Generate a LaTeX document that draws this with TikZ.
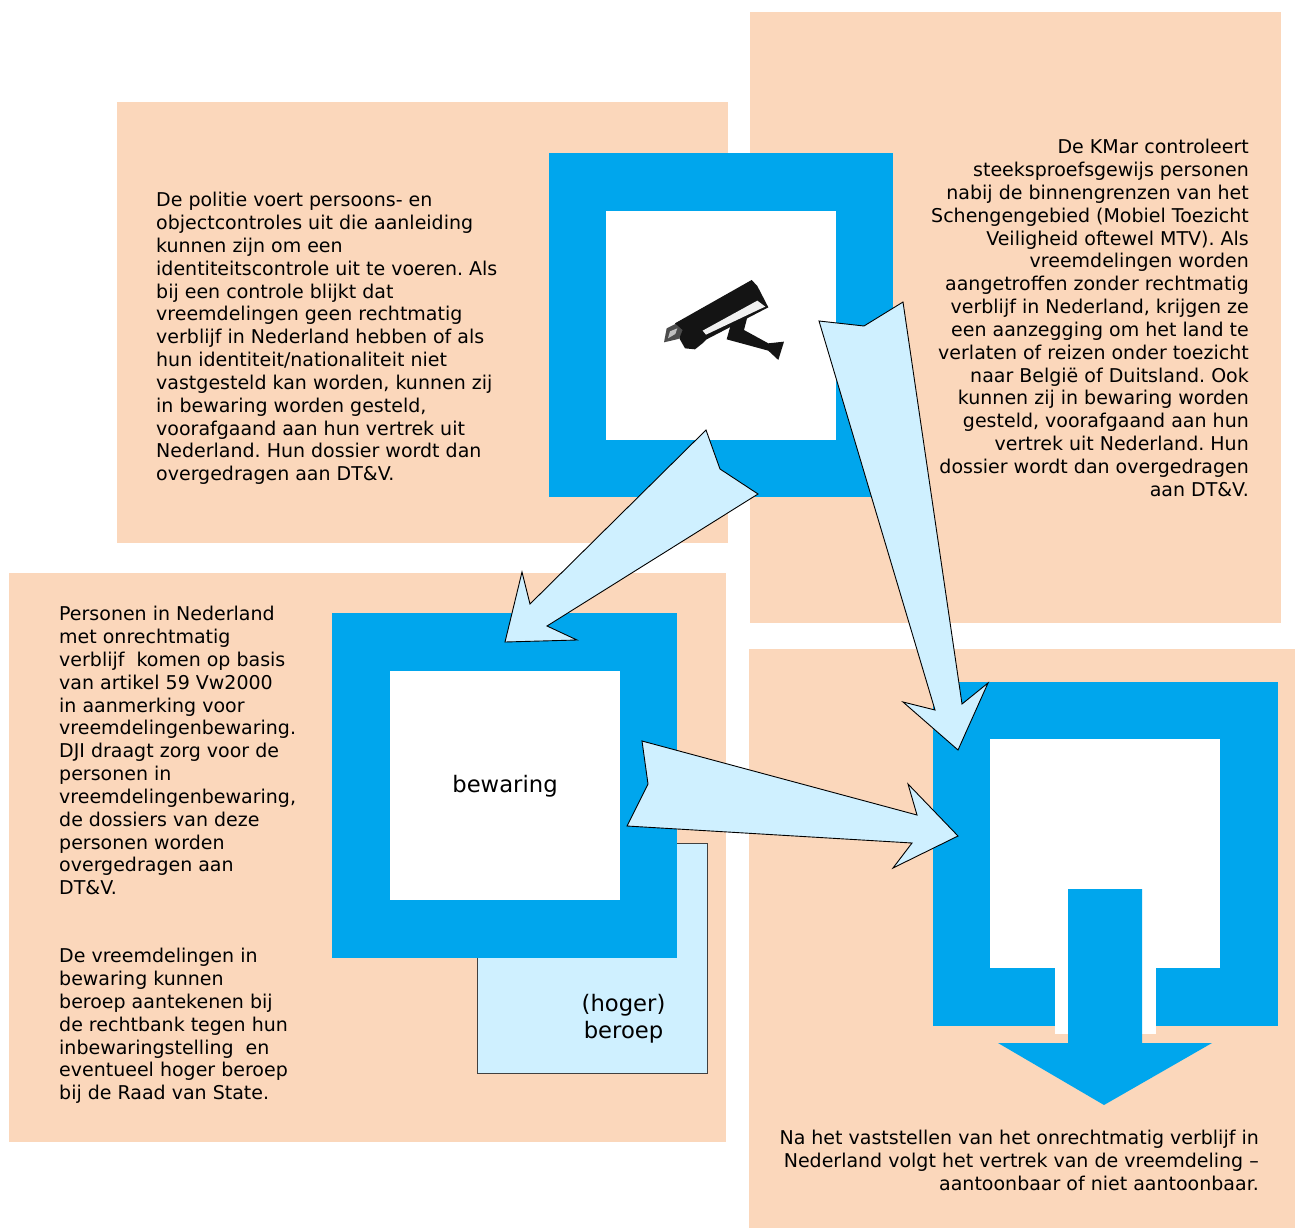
\documentclass[tikz,border=0pt]{standalone}
\usepackage{fontspec}
\setmainfont{DejaVu Sans}
\frenchspacing
\definecolor{peach}{HTML}{FBD7BB}
\definecolor{frameblue}{HTML}{00A6ED}
\definecolor{paleblue}{HTML}{CFF0FF}
\tikzset{
  panel/.style={fill=peach,draw=none},
  frameouter/.style={fill=frameblue,draw=none},
  framewhite/.style={fill=white,draw=none},
  bigarrow/.style={fill=paleblue,draw=black,line width=0.9pt,line join=miter},
  bodytext/.style={inner sep=0pt,anchor=north west,align=left,font=\fontsize{19}{22.85}\selectfont},
  righttext/.style={inner sep=0pt,anchor=north east,align=right,font=\fontsize{19}{22.85}\selectfont},
  labeltext/.style={inner sep=0pt,align=center,font=\fontsize{22.7}{27}\selectfont}
}
\begin{document}
\begin{tikzpicture}[x=1pt,y=-1pt]
\useasboundingbox (0,0) rectangle (1295,1228);
% panels
\fill[panel] (117,102) rectangle (728,543);
\fill[panel] (750,12) rectangle (1281,623);
\fill[panel] (9,573) rectangle (726,1142);
\fill[panel] (749,649) rectangle (1295,1228);
% appeal box
\draw[fill=paleblue,draw=black!75,line width=0.9pt] (477,843) rectangle (707,1073);
% frames
\fill[frameouter] (549,153) rectangle (893,497);
\fill[framewhite] (606,210.5) rectangle (836,440);
\fill[frameouter] (332,613) rectangle (677,958);
\fill[framewhite] (389.5,670.5) rectangle (619.5,900);
\fill[frameouter] (933,681.5) rectangle (1277.5,1026);
\fill[framewhite] (990,739) rectangle (1220,968);
\fill[framewhite] (1055,960) rectangle (1156,1034);
% exit arrow
\fill[frameouter] (1068,889) -- (1142,889) -- (1142,1043) -- (1212,1043) -- (1104,1105) -- (998,1043) -- (1068,1043) -- cycle;
% camera
\begin{scope}[shift={(640,260)},x=0.3333pt,y=-0.3333pt]
\fill[black!92] (260,238) -- (272,195) -- (325,160) -- (312,210) -- (385,250) -- (432,245) -- (415,300) -- (385,272) -- cycle;
\fill[black!70] (72,247) -- (80,205) -- (130,180) -- (135,215) -- (115,237) -- cycle;
\fill[black!25] (84,235) -- (90,214) -- (112,205) -- (106,222) -- cycle;
\fill[black!92] (105,190) -- (335,60) -- (352,78) -- (385,142) -- (200,238) -- (190,248) -- (165,268) -- (135,265) -- (118,235) -- (128,210) -- cycle;
\fill[black!6] (188,212) -- (352,122) -- (376,140) -- (358,148) -- (198,224) -- cycle;
\end{scope}
% arrows
\draw[bigarrow] (706,430) -- (720,469) -- (758,494) -- (547,626) -- (577,640) -- (505,642) -- (522,572) -- (530,604) -- cycle;
\draw[bigarrow] (819,321) -- (864,326) -- (903,302) -- (962,704) -- (988,683) -- (958,750) -- (903,702) -- (935,710) -- cycle;
\draw[bigarrow] (642,741) -- (648,784) -- (627,826) -- (912,843) -- (893,868) -- (958,836) -- (908,784) -- (917,815) -- cycle;
% texts
\node[bodytext] (politie) at (156,192) {De politie voert persoons- en\\objectcontroles uit die aanleiding\\kunnen zijn om een\\identiteitscontrole uit te voeren. Als\\bij een controle blijkt dat\\vreemdelingen geen rechtmatig\\verblijf in Nederland hebben of als\\hun identiteit/nationaliteit niet\\vastgesteld kan worden, kunnen zij\\in bewaring worden gesteld,\\voorafgaand aan hun vertrek uit\\Nederland. Hun dossier wordt dan\\overgedragen aan DT\&V.};
\node[righttext] (kmar) at (1249,139) {De KMar controleert\\steeksproefsgewijs personen\\nabij de binnengrenzen van het\\Schengengebied (Mobiel Toezicht\\Veiligheid oftewel MTV). Als\\vreemdelingen worden\\aangetroffen zonder rechtmatig\\verblijf in Nederland, krijgen ze\\een aanzegging om het land te\\verlaten of reizen onder toezicht\\naar België of Duitsland. Ook\\kunnen zij in bewaring worden\\gesteld, voorafgaand aan hun\\vertrek uit Nederland. Hun\\dossier wordt dan overgedragen\\aan DT\&V.};
\node[bodytext] (personen) at (59,606) {Personen in Nederland\\met onrechtmatig\\verblijf\ \ komen op basis\\van artikel 59 Vw2000\\in aanmerking voor\\vreemdelingenbewaring.\\DJI draagt zorg voor de\\personen in\\vreemdelingenbewaring,\\de dossiers van deze\\personen worden\\overgedragen aan\\DT\&V.};
\node[bodytext] (beroeptekst) at (59,948) {De vreemdelingen in\\bewaring kunnen\\beroep aantekenen bij\\de rechtbank tegen hun\\inbewaringstelling\ \ en\\eventueel hoger beroep\\bij de Raad van State.};
\node[righttext] (vertrek) at (1259,1130) {Na het vaststellen van het onrechtmatig verblijf in\\Nederland volgt het vertrek van de vreemdeling –\\aantoonbaar of niet aantoonbaar.};
\node[labeltext] (bewaring) at (505,786) {bewaring};
\node[labeltext] (hoger) at (623.5,1019) {(hoger)\\beroep};
\end{tikzpicture}
\end{document}
